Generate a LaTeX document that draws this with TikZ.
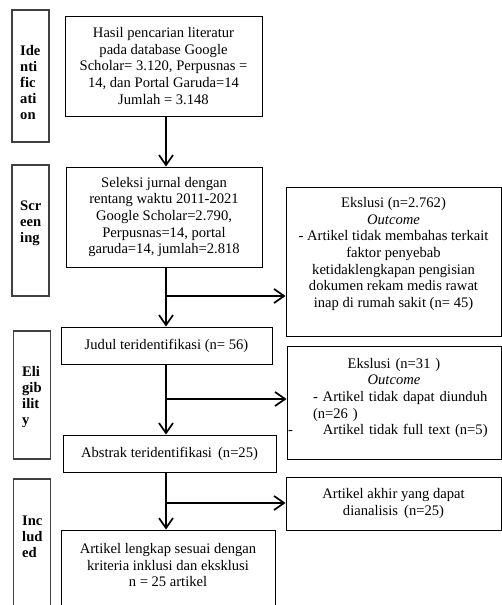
\documentclass[tikz,border=0pt]{standalone}
\usepackage{fontspec}
\setmainfont{Liberation Serif}
\usetikzlibrary{arrows.meta,positioning}

\tikzset{
    box/.style={draw, line width=0.9pt, align=center, inner sep=0pt,
        font=\fontsize{14.6}{16.6}\selectfont},
    stage/.style={draw=black!75, line width=1.1pt, inner sep=0pt, minimum width=37pt},
    stagetxt/.style={anchor=west, align=left, inner sep=0pt,
        font=\fontsize{14.6}{16}\selectfont\bfseries},
    bodytxt/.style={align=center, inner sep=0pt, font=\fontsize{14.6}{16.6}\selectfont},
    flow/.style={line width=1.7pt, -{Straight Barb[length=10pt,width=14pt]}},
}

\begin{document}
\begin{tikzpicture}[x=1pt, y=-1pt]
        \useasboundingbox (0,0) rectangle (502,605);
        \clip (0,0) rectangle (502,605);

        \node[stage, minimum height=132pt] (idf) at (30.5,76) {};
        \node[stagetxt] (idftxt) at (20,83) {Ide\\nti\\fic\\ati\\on};
        \node[stage, minimum height=131pt] (scr) at (30.5,230.5) {};
        \node[stagetxt] (scrtxt) at (20,223) {Scr\\een\\ing};
        \node[stage, minimum height=128pt] (elig) at (32,395) {};
        \node[stagetxt] (eligtxt) at (22,397) {Eli\\gib\\ilit\\y};
        \node[stage, minimum height=161pt] (incl) at (32,559.5) {};
        \node[stagetxt] (incltxt) at (22,537) {Inc\\lud\\ed};

        \node[box, minimum width=197pt, minimum height=100pt] (hasil) at (163.5,66)
            {Hasil pencarian literatur\\pada database Google\\Scholar= 3.120, Perpusnas =\\14, dan Portal Garuda=14\\Jumlah = 3.148};
        \node[box, minimum width=196pt, minimum height=100pt] (seleksi) at (164,217)
            {Seleksi jurnal dengan\\rentang waktu 2011-2021\\Google Scholar=2.790,\\Perpusnas=14, portal\\garuda=14, jumlah=2.818};
        \node[box, minimum width=211pt, minimum height=37pt] (judul) at (166.5,345.5)
            {Judul teridentifikasi (n= 56)};
        \node[box, minimum width=213pt, minimum height=37pt] (abstrak) at (169.5,453.5)
            {Abstrak teridentifikasi\, (n=25)};
        \node[box, minimum width=214pt, minimum height=120pt] (lengkap) at (168,590) {};
        \node[bodytxt] (lengkaptxt) at (168,565)
            {Artikel lengkap sesuai dengan\\kriteria inklusi dan eksklusi\\n = 25 artikel};

        \node[box, minimum width=215pt, minimum height=149pt] (ekskl1) at (393.5,261.5) {};
        \node[bodytxt] (ekskl1txt) at (393.5,254)
            {Ekslusi (n=2.762)\\\textit{Outcome}\\- Artikel tidak membahas terkait\\faktor penyebab\\ketidaklengkapan pengisian\\dokumen rekam medis rawat\\inap di rumah sakit (n= 45)};
        \node[box, minimum width=214pt, minimum height=113pt] (ekskl2) at (394,402.5) {};
        \node[bodytxt, text width=212pt] (ekskl2txt) at (394,398)
            {Ekslusi (n=31 )\\\textit{Outcome}\\
             \hspace*{25pt}- Artikel tidak dapat diunduh\hfill\null\\
             \hspace*{25pt}(n=26 )\hfill\null\\
             -\hspace*{30pt}Artikel tidak full text (n=5)\hfill\null};
        \node[box, minimum width=215pt, minimum height=53pt] (akhir) at (393.5,503.5)
            {Artikel akhir yang dapat\\dianalisis\, (n=25)};

        \coordinate (spine) at (166,0);
        \coordinate (cab1) at (166,296);
        \coordinate (cab2) at (166,399);
        \coordinate (cab3) at (166,503);

        \draw[flow] (hasil.south -| spine) -- (seleksi.north -| spine);
        \draw[flow] (seleksi.south -| spine) -- (judul.north -| spine);
        \draw[flow] (cab1) -- (ekskl1.west |- cab1);
        \draw[flow] (judul.south -| spine) -- (abstrak.north -| spine);
        \draw[flow] (cab2) -- (ekskl2.west |- cab2);
        \draw[flow] (abstrak.south -| spine) -- (lengkap.north -| spine);
        \draw[flow] (cab3) -- (akhir.west |- cab3);
\end{tikzpicture}
\end{document}
